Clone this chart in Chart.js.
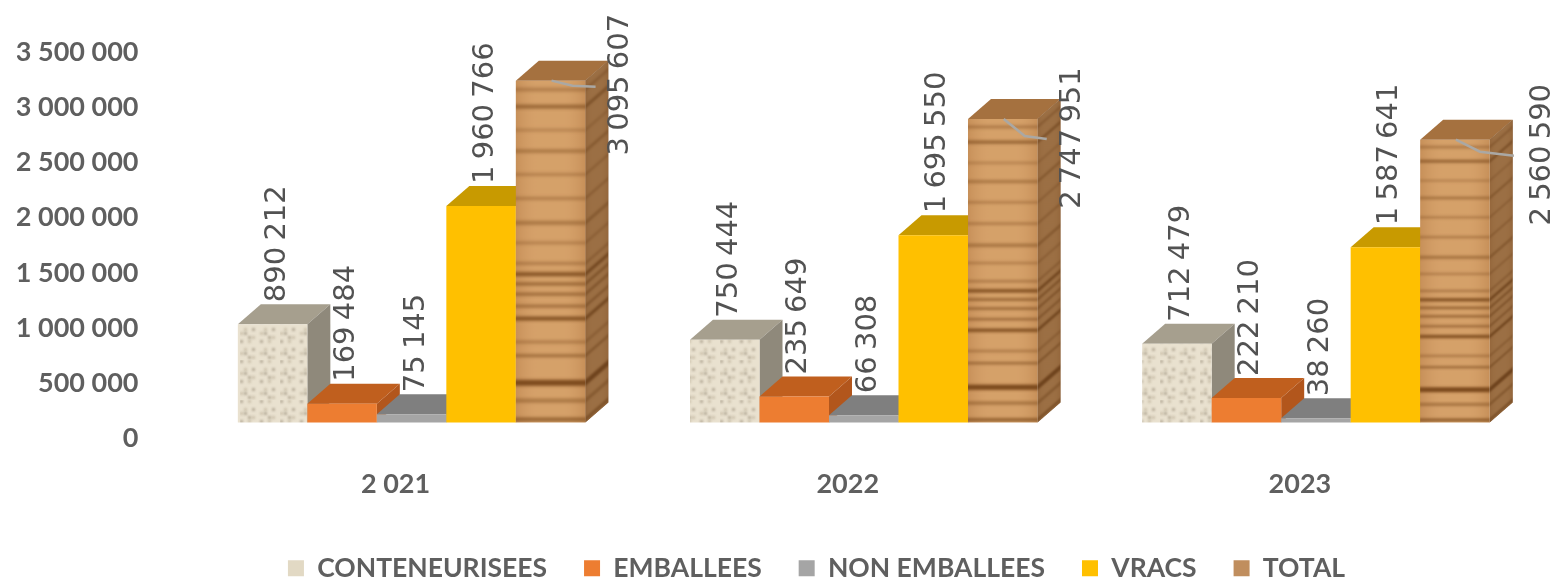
<!DOCTYPE html>
<html><head><meta charset="utf-8">
<style>html,body{margin:0;padding:0;background:#fff}#w{width:1556px;height:581px}canvas{filter:blur(.5px)}</style>
<script src="https://cdn.jsdelivr.net/npm/chart.js@4/dist/chart.umd.min.js"></script>
</head><body><div id="w"><canvas id="c" width="1556" height="581"></canvas></div>
<script>
const categories = ['2 021', '2022', '2023'];
const conteneurisees = [890212, 750444, 712479];
const emballees = [169484, 235649, 222210];
const nonEmballees = [75145, 66308, 38260];
const vracs = [1960766, 1695550, 1587641];
const total = [3095607, 2747951, 2560590];

const DEPTH_X = 23, DEPTH_Y = 20;
const GREY_TEXT = '#5f5f5f', LABEL_TEXT = '#525252';
// manual placement of the TOTAL labels and leader lines, relative to the bar
const totalLabelShift = [[70, 4], [70, 19], [88, 15]];
const leaderKnee = [[22, 5], [22, 17], [25, 12]];
const leaderEnd = [[45, 6], [44, 20], [59, 16]];

function tile(w, h, paint) {
  const t = document.createElement('canvas'); t.width = w; t.height = h;
  paint(t.getContext('2d')); return t;
}
const woodBands = [[.02,.35,4],[.07,.6,4],[.14,.3,3],[.20,.4,4],[.27,.35,3],[.34,.4,3],[.41,.45,4],[.47,.35,3],[.53,.4,3],[.56,.85,4],[.59,.65,3],[.62,.6,3],[.655,.55,3],[.69,.85,4],[.76,.4,3],[.80,.55,3],[.875,.95,6],[.93,.45,4],[.985,.65,4]];
const woodTile = tile(70, 340, g => {
  g.fillStyle = '#d29c64'; g.fillRect(0, 0, 70, 340);
  const gr = g.createLinearGradient(0,0,70,0);
  gr.addColorStop(0,'rgba(150,90,40,.18)');gr.addColorStop(.3,'rgba(255,220,170,.08)');gr.addColorStop(.7,'rgba(255,220,170,.08)');gr.addColorStop(1,'rgba(150,90,40,.18)');
  g.fillStyle = gr; g.fillRect(0,0,70,340);
  g.filter = 'blur(1.6px)';
  woodBands.forEach(([p, a, t]) => { g.fillStyle = `rgba(120,70,25,${a})`; g.fillRect(-4, p*340, 78, t); });
  g.filter = 'none';
});
const burlapTile = tile(40, 40, g => {
  g.fillStyle = '#e9e1cf'; g.fillRect(0,0,40,40);
  g.filter = 'blur(.8px)';
  for (let i = 0; i < 10; i++) for (let j = 0; j < 10; j++) {
    const k = (i*3 + j*7 + i*j*2) % 5;
    if (k < 2) { g.fillStyle = k ? 'rgba(150,135,105,.32)' : 'rgba(110,100,80,.4)'; g.fillRect(i*4, j*4, 3, 3); }
  }
  g.filter = 'none';
});
const ctx0 = document.getElementById('c').getContext('2d');
const woodFronts = categories.map(() => ctx0.createPattern(woodTile, 'repeat'));
const burlapFront = ctx0.createPattern(burlapTile, 'repeat');

const seriesNames = ['CONTENEURISEES', 'EMBALLEES', 'NON EMBALLEES', 'VRACS', 'TOTAL'];
const seriesValues = [conteneurisees, emballees, nonEmballees, vracs, total];
const frontColors = [burlapFront, '#ed7d31', '#a5a5a5', '#ffc000', woodFronts];
const swatchColors = ['#e2d9c4', '#ed7d31', '#a5a5a5', '#ffc000', '#c08e5e'];
const topColors = ['#a69f8e', '#c05f1e', '#7f7f7f', '#c89a00', '#a5713f'];
const sideColors = ['#8f897b', '#b2561c', '#767676', '#bd9000', '#8d6036'];

const fmt = v => String(v).replace(/\B(?=(\d{3})+$)/g, ' ');

const bars3d = {
  id: 'bars3d',
  beforeDatasetsDraw(chart) {
    const g = chart.ctx;
    chart.getDatasetMeta(4).data.forEach((b, i) => {
      woodFronts[i].setTransform(new DOMMatrix().translate(b.x - b.width/2, b.y).scale(b.width/70, (b.base - b.y)/340));
    });
    chart.data.datasets.forEach((ds, d) => {
      const meta = chart.getDatasetMeta(d);
      meta.data.forEach(b => {
        const l = b.x - b.width/2, r = b.x + b.width/2, t = b.y, y0 = b.base;
        g.fillStyle = topColors[d];
        g.beginPath(); g.moveTo(l, t); g.lineTo(l+DEPTH_X, t-DEPTH_Y); g.lineTo(r+DEPTH_X, t-DEPTH_Y); g.lineTo(r, t); g.closePath(); g.fill();
        g.fillStyle = sideColors[d];
        g.beginPath(); g.moveTo(r, t); g.lineTo(r+DEPTH_X, t-DEPTH_Y); g.lineTo(r+DEPTH_X, y0-DEPTH_Y); g.lineTo(r, y0); g.closePath(); g.fill();
        if (d === 4) {
          g.save();
          g.clip();
          g.transform(DEPTH_X/70, -DEPTH_Y/70, 0, (y0-t)/340, r, t);
          g.globalAlpha = .75;
          g.fillStyle = g.createPattern(woodTile, 'repeat');
          g.fillRect(0, 0, 70, 340);
          g.restore();
          g.fillStyle = 'rgba(70,40,15,.32)';
          g.beginPath(); g.moveTo(r, t); g.lineTo(r+DEPTH_X, t-DEPTH_Y); g.lineTo(r+DEPTH_X, y0-DEPTH_Y); g.lineTo(r, y0); g.closePath(); g.fill();
        }
      });
      meta.controller.draw();
    });
    return false;
  },
  afterDraw(chart) {
    const g = chart.ctx;
    g.save();
    g.font = '29px "DejaVu Sans"'; g.fillStyle = LABEL_TEXT;
    g.wordSpacing = '-3px';
    g.textBaseline = 'middle';
    chart.data.datasets.forEach((ds, d) => {
      chart.getDatasetMeta(d).data.forEach((b, i) => {
        const text = fmt(ds.data[i]);
        g.save();
        if (d === 4) {
          g.strokeStyle = '#aaa8a4'; g.lineWidth = 2.5;
          g.beginPath(); g.moveTo(b.x+1, b.y);
          g.lineTo(b.x+leaderKnee[i][0], b.y+leaderKnee[i][1]);
          g.lineTo(b.x+leaderEnd[i][0], b.y+leaderEnd[i][1]); g.stroke();
          g.translate(b.x + totalLabelShift[i][0], b.y + totalLabelShift[i][1]);
          g.textAlign = 'center';
        } else {
          g.translate(b.x + 4.5, b.y - DEPTH_Y - 2);
          g.textAlign = 'left';
        }
        g.rotate(-Math.PI/2);
        g.fillText(text, 0, 0);
        g.restore();
      });
    });
    g.restore();
  },
  afterLayout(chart) {
    const lg = chart.legend;
    if (lg) { lg.top = 518; lg.bottom = lg.top + lg.height; lg.left += 37; lg.right += 37; }
  }
};

new Chart(document.getElementById('c'), {
  type: 'bar',
  plugins: [bars3d],
  data: {
    labels: categories,
    datasets: seriesNames.map((n, i) => ({
      label: n, data: seriesValues[i], backgroundColor: frontColors[i], borderWidth: 0,
      categoryPercentage: .7685, barPercentage: 1
    }))
  },
  options: {
    responsive: false, animation: false,
    layout: { padding: { top: 36, left: 17, right: 14, bottom: 0 } },
    scales: {
      x: {
        grid: { display: false, drawTicks: false }, border: { display: false },
        ticks: { color: GREY_TEXT, font: { family: 'Lato', weight: 'bold', size: 27 }, padding: 46, labelOffset: -16, maxRotation: 0 },
        afterFit(s) { s.height = 85; }
      },
      y: {
        min: 0, max: 3500000,
        grid: { display: false, drawTicks: false }, border: { display: false },
        ticks: { color: GREY_TEXT, font: { family: 'Lato', weight: 'bold', size: 27 }, padding: 47, labelOffset: 16, stepSize: 500000,
          callback: v => fmt(v) },
        afterFit(s) { s.width = 168.5; s.paddingTop = 0; s.paddingBottom = 0; }
      }
    },
    plugins: {
      tooltip: { enabled: false },
      legend: {
        position: 'bottom',
        labels: {
          boxWidth: 16, boxHeight: 16, padding: 37, color: GREY_TEXT,
          font: { family: 'Lato', weight: 'bold', size: 26.5 },
          generateLabels: () => seriesNames.map((n, i) => ({ text: n, fillStyle: swatchColors[i], strokeStyle: swatchColors[i], lineWidth: 0, datasetIndex: i, fontColor: GREY_TEXT }))
        }
      }
    }
  }
});
</script>
</body></html>
